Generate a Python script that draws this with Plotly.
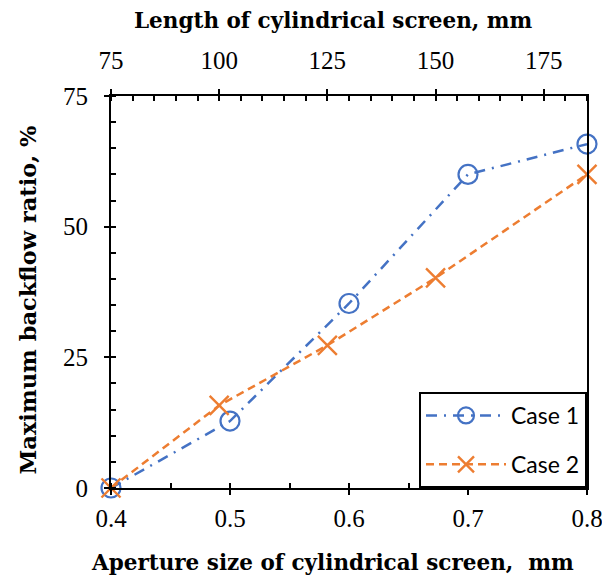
import plotly.graph_objects as go

# Data
aperture = [0.4, 0.5, 0.6, 0.7, 0.8]
case1 = [0, 12.8, 35.3, 60.0, 65.8]
length = [75, 100, 125, 150, 185]
case2 = [0, 15.8, 27.3, 40.2, 60.0]

x_ticks = [0.4, 0.5, 0.6, 0.7, 0.8]
x_ticklabels = ["0.4", "0.5", "0.6", "0.7", "0.8"]
top_ticks = [75, 100, 125, 150, 175]
y_ticks = [0, 25, 50, 75]

BLUE = "#4472C4"
ORANGE = "#ED7D31"
SERIF = "Liberation Serif"
TITLEFONT = dict(family="DejaVu Serif", size=21.5, color="black")
TICKFONT = dict(family=SERIF, size=25, color="black")

fig = go.Figure()
fig.add_trace(go.Scatter(
    x=aperture, y=case1, name="Case 1", mode="lines+markers", cliponaxis=False,
    line=dict(color=BLUE, width=2.5, dash="11px,7px,2px,7px"),
    marker=dict(symbol="circle-open", size=19, color=BLUE, line=dict(width=2.2, color=BLUE)),
    legendgroup="a",
))
fig.add_trace(go.Scatter(
    x=length, y=case2, xaxis="x2", name="Case 2", mode="lines+markers", cliponaxis=False,
    line=dict(color=ORANGE, width=2.5, dash="8px,5px"),
    marker=dict(symbol="x-thin-open", size=19, color=ORANGE, line=dict(width=2.4, color=ORANGE)),
    legendgroup="b",
))

axis_common = dict(showgrid=False, zeroline=False, linecolor="black", linewidth=2,
                   tickcolor="black", tickwidth=2, ticklen=5, tickfont=TICKFONT, automargin=False,
                   ticklabeloverflow="allow")

fig.update_layout(
    width=602, height=579,
    margin=dict(l=111, r=15, t=96, b=91),
    paper_bgcolor="white", plot_bgcolor="white",
    showlegend=True,
    xaxis=dict(range=[0.4, 0.8], tickvals=x_ticks, ticktext=x_ticklabels, ticks="outside",
               showline=True, anchor="y", side="bottom", ticklabelstandoff=2,
               minor=dict(dtick=0.05, tick0=0.4, ticks="inside", ticklen=5, tickwidth=2, tickcolor="black"),
               **axis_common),
    xaxis2=dict(range=[75, 185], tickvals=top_ticks, ticks="outside", overlaying="x",
                side="top", anchor="y", showline=True, ticklabelstandoff=10,
                minor=dict(dtick=5, tick0=75, ticks="inside", ticklen=5, tickwidth=2, tickcolor="black"),
                **axis_common),
    xaxis3=dict(range=[0.4, 0.8], tickvals=x_ticks, ticks="inside", overlaying="x",
                side="bottom", anchor="y", showline=False, showticklabels=False, automargin=False,
                showgrid=False, zeroline=False, tickcolor="black", tickwidth=2, ticklen=5),
    xaxis4=dict(range=[75, 185], tickvals=top_ticks, ticks="inside", overlaying="x",
                side="top", anchor="y", showline=False, showticklabels=False, automargin=False,
                showgrid=False, zeroline=False, tickcolor="black", tickwidth=2, ticklen=5),
    yaxis=dict(range=[0, 75], tickvals=y_ticks, ticks="outside", showline=True, mirror=True,
               ticklabelstandoff=11,
               minor=dict(dtick=5, tick0=0, ticks="inside", ticklen=5, tickwidth=2, tickcolor="black"),
               **axis_common),
    yaxis2=dict(range=[0, 75], tickvals=y_ticks, ticks="inside", overlaying="y", side="left",
                anchor="x", showline=False, showticklabels=False, showgrid=False, zeroline=False,
                automargin=False, tickcolor="black", tickwidth=2, ticklen=5),
    legend=dict(x=1, y=0, xanchor="right", yanchor="bottom", bordercolor="black", borderwidth=2,
                bgcolor="white", font=dict(family="Lato", size=23, color="black"),
                tracegroupgap=16, traceorder="grouped", itemwidth=80),
    annotations=[
        dict(text="<b>Aperture size of cylindrical screen,  mm</b>", xref="paper", yref="paper",
             x=0.465, y=-0.19, xanchor="center", yanchor="middle", showarrow=False,
             font=TITLEFONT),
        dict(text="<b>Length of cylindrical screen, mm</b>", xref="paper", yref="paper",
             x=0.468, y=1.192, xanchor="center", yanchor="middle", showarrow=False,
             font=TITLEFONT),
        dict(text="<b>Maximum backflow ratio, %</b>", xref="paper", yref="paper",
             x=-0.175, y=0.48, xanchor="center", yanchor="middle", showarrow=False, textangle=-90,
             font=dict(family="DejaVu Serif", size=22.5, color="black")),
    ],
)
# dummy traces to activate helper axes
fig.add_trace(go.Scatter(x=[None], y=[None], xaxis="x3", showlegend=False, hoverinfo="skip"))
fig.add_trace(go.Scatter(x=[None], y=[None], xaxis="x4", showlegend=False, hoverinfo="skip"))
fig.add_trace(go.Scatter(x=[None], y=[None], yaxis="y2", showlegend=False, hoverinfo="skip"))

fig.write_html("out.html")
